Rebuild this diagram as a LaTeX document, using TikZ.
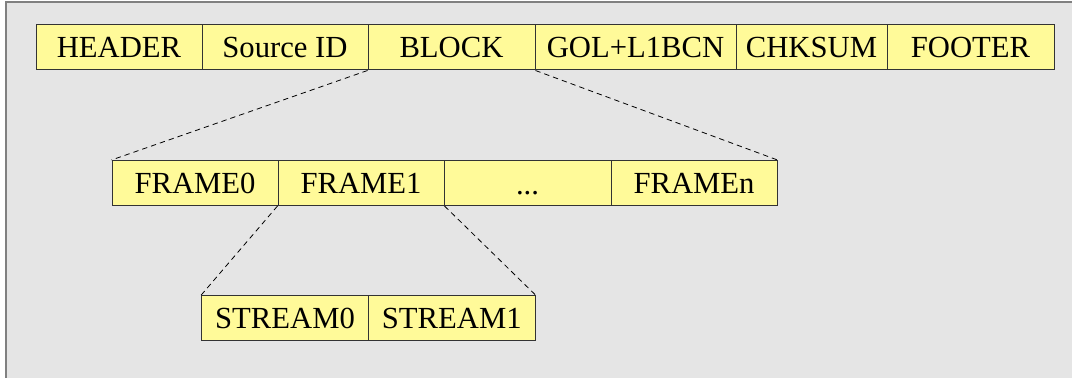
\documentclass[tikz,border=0pt]{standalone}
\usepackage{fontspec}
\setmainfont{Liberation Serif}
\begin{document}
\begin{tikzpicture}[x=0.75pt,y=-0.75pt,
  cell/.style={draw=black!80, fill=yellow!40!white, line width=0.75pt,
    minimum width=#1*0.75pt, minimum height=45*0.75pt, inner sep=0pt,
    font=\fontsize{23}{27}\selectfont},
  link/.style={draw=black, line width=0.6pt, dash pattern=on 4pt off 3pt}]
  \useasboundingbox (0,0) rectangle (1072,378);
  % panel background with its left and top border
  \fill[black!10] (6,2) rectangle (1072,378);
  \draw[black!50, line width=1.5pt] (6,378) -- (6,2) -- (1072,2);
  % top record
  \node[cell=166] (hdr) at (119,47.5) {HEADER};
  \node[cell=166] (src) at (285,47.5) {Source ID};
  \node[cell=167] (blk) at (451.5,47.5) {BLOCK};
  \node[cell=201] (gol) at (635.5,47.5) {GOL+L1BCN};
  \node[cell=151] (chk) at (811.5,47.5) {CHKSUM};
  \node[cell=167] (ftr) at (970.5,47.5) {FOOTER};
  % frames inside a block
  \node[cell=166] (f0) at (195,183) {FRAME0};
  \node[cell=166] (f1) at (361,183) {FRAME1};
  \node[cell=167] (fd) at (527.5,183) {};
  \node[font=\fontsize{23}{27}\selectfont, inner sep=0pt, anchor=base] (fdt) at (527.5,195) {...};
  \node[cell=166] (fn) at (694,183) {FRAMEn};
  % streams inside a frame
  \node[cell=166.5] (s0) at (285,318) {STREAM0};
  \node[cell=166.5] (s1) at (451.75,318) {STREAM1};
  % expansion guides
  \draw[link] (blk.south west) -- (f0.north west);
  \draw[link] (blk.south east) -- (fn.north east);
  \draw[link] (f1.south west) -- (s0.north west);
  \draw[link] (f1.south east) -- (s1.north east);
\end{tikzpicture}
\end{document}
